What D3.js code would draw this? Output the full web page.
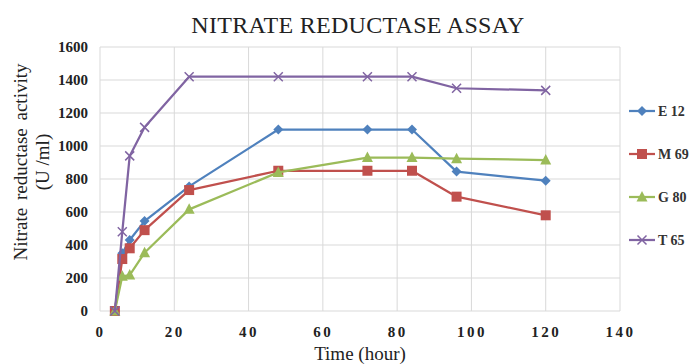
<!DOCTYPE html>
<html>
<head>
<meta charset="utf-8">
<script src="https://cdn.jsdelivr.net/npm/d3@7"></script>
<style>
  body { margin: 0; background: #fff; }
  svg { display: block; }
</style>
</head>
<body>
<svg id="chart" width="689" height="364"></svg>
<script>
// data
var hours = [4, 6, 8, 12, 24, 48, 72, 84, 96, 120];
var e12 = [0, 350, 430, 545, 755, 1100, 1100, 1100, 845, 790];
var m69 = [0, 315, 380, 490, 733, 850, 850, 850, 693, 580];
var g80 = [0, 210, 218, 353, 616, 840, 930, 930, 923, 915];
var t65 = [0, 480, 940, 1113, 1420, 1420, 1420, 1420, 1350, 1337];
var seriesNames = ["E 12", "M 69", "G 80", "T 65"];
var xTicks = [0, 20, 40, 60, 80, 100, 120, 140];
var yTicks = [0, 200, 400, 600, 800, 1000, 1200, 1400, 1600];

var series = [
    { name: seriesNames[0], values: e12, color: "#4F81BD", symbol: "diamond" },
    { name: seriesNames[1], values: m69, color: "#C0504D", symbol: "square" },
    { name: seriesNames[2], values: g80, color: "#9BBB59", symbol: "triangle" },
    { name: seriesNames[3], values: t65, color: "#8064A2", symbol: "cross" }
];

var svg = d3.select("#chart");
var serif = "'Liberation Serif', 'DejaVu Serif', serif";

// plot area bounds
var plotLeft = 100, plotRight = 620, plotTop = 47, plotBottom = 311;

var x = d3.scaleLinear().domain([0, 140]).range([plotLeft, plotRight]);
var y = d3.scaleLinear().domain([0, 1600]).range([plotBottom, plotTop]);

// title
svg.append("text")
    .attr("x", 358)
    .attr("y", 33)
    .attr("text-anchor", "middle")
    .attr("font-family", serif)
    .attr("font-size", 24)
    .attr("letter-spacing", 0.3)
    .attr("fill", "#222")
    .text("NITRATE REDUCTASE ASSAY");

// gridlines
svg.append("g")
    .selectAll("line")
    .data(yTicks)
    .enter().append("line")
    .attr("x1", plotLeft).attr("x2", plotRight)
    .attr("y1", function(d) { return y(d); })
    .attr("y2", function(d) { return y(d); })
    .attr("stroke", "#d9d9d9")
    .attr("stroke-width", 1);

svg.append("g")
    .selectAll("line")
    .data(xTicks)
    .enter().append("line")
    .attr("y1", plotTop).attr("y2", plotBottom)
    .attr("x1", function(d) { return x(d); })
    .attr("x2", function(d) { return x(d); })
    .attr("stroke", "#d9d9d9")
    .attr("stroke-width", 1);

// axes (labels only, no domain lines)
var xAxis = svg.append("g")
    .attr("transform", "translate(0," + plotBottom + ")")
    .call(d3.axisBottom(x).tickValues(xTicks).tickSize(0).tickPadding(15).tickFormat(d3.format("d")));
xAxis.select(".domain").remove();
xAxis.selectAll("text")
    .attr("font-family", serif)
    .attr("font-size", 15)
    .attr("font-weight", "bold")
    .attr("letter-spacing", 2.5)
    .attr("fill", "#222");

var yAxis = svg.append("g")
    .attr("transform", "translate(" + plotLeft + ",0)")
    .call(d3.axisLeft(y).tickValues(yTicks).tickSize(0).tickPadding(12).tickFormat(d3.format("d")));
yAxis.select(".domain").remove();
yAxis.selectAll("text")
    .attr("font-family", serif)
    .attr("font-size", 15)
    .attr("font-weight", "bold")
    .attr("fill", "#222");

// axis titles
svg.append("text")
    .attr("x", 360)
    .attr("y", 360)
    .attr("text-anchor", "middle")
    .attr("font-family", serif)
    .attr("font-size", 19)
    .attr("fill", "#222")
    .text("Time (hour)");

var yTitle = svg.append("text")
    .attr("transform", "translate(27,162) rotate(-90)")
    .attr("text-anchor", "middle")
    .attr("font-family", serif)
    .attr("font-size", 19)
    .attr("fill", "#222");
yTitle.append("tspan").attr("x", 0).attr("dy", 0).attr("word-spacing", 3).text("Nitrate reductase activity");
yTitle.append("tspan").attr("x", 0).attr("dy", 22).text("(U /ml)");

// symbol drawing
function drawMarker(g, kind, color) {
    if (kind === "diamond") {
        g.append("path").attr("d", "M0,-5L5,0L0,5L-5,0Z").attr("fill", color);
    } else if (kind === "square") {
        g.append("rect").attr("x", -5).attr("y", -5).attr("width", 10).attr("height", 10).attr("fill", color);
    } else if (kind === "triangle") {
        g.append("path").attr("d", "M0,-6L5.5,4.5L-5.5,4.5Z").attr("fill", color);
    } else {
        g.append("path").attr("d", "M-4.5,-4.5L4.5,4.5M-4.5,4.5L4.5,-4.5")
            .attr("stroke", color).attr("stroke-width", 1.5).attr("fill", "none");
    }
}

var line = d3.line()
    .x(function(d) { return x(d[0]); })
    .y(function(d) { return y(d[1]); });

series.forEach(function(s) {
    var pts = hours.map(function(h, i) { return [h, s.values[i]]; });
    var g = svg.append("g");
    g.append("path")
        .datum(pts)
        .attr("d", line)
        .attr("fill", "none")
        .attr("stroke", s.color)
        .attr("stroke-width", 2.25)
        .attr("stroke-linejoin", "round");
    g.selectAll("g")
        .data(pts)
        .enter().append("g")
        .attr("transform", function(d) { return "translate(" + x(d[0]) + "," + y(d[1]) + ")"; })
        .each(function() { drawMarker(d3.select(this), s.symbol, s.color); });
});

// legend
var legend = svg.append("g")
    .attr("transform", "translate(629,111)");

legend.selectAll("g")
    .data(series)
    .enter().append("g")
    .attr("transform", function(d, i) { return "translate(0," + i * 43 + ")"; })
    .each(function(d) {
        var item = d3.select(this);
        item.append("line")
            .attr("x1", 0).attr("x2", 26)
            .attr("stroke", d.color).attr("stroke-width", 2.25);
        drawMarker(item.append("g").attr("transform", "translate(13,0)"), d.symbol, d.color);
        item.append("text")
            .attr("x", 29)
            .attr("dy", "0.35em")
            .attr("font-family", serif)
            .attr("font-size", 14)
            .attr("font-weight", "bold")
            .attr("fill", "#333")
            .text(d.name);
    });
</script>
</body>
</html>
